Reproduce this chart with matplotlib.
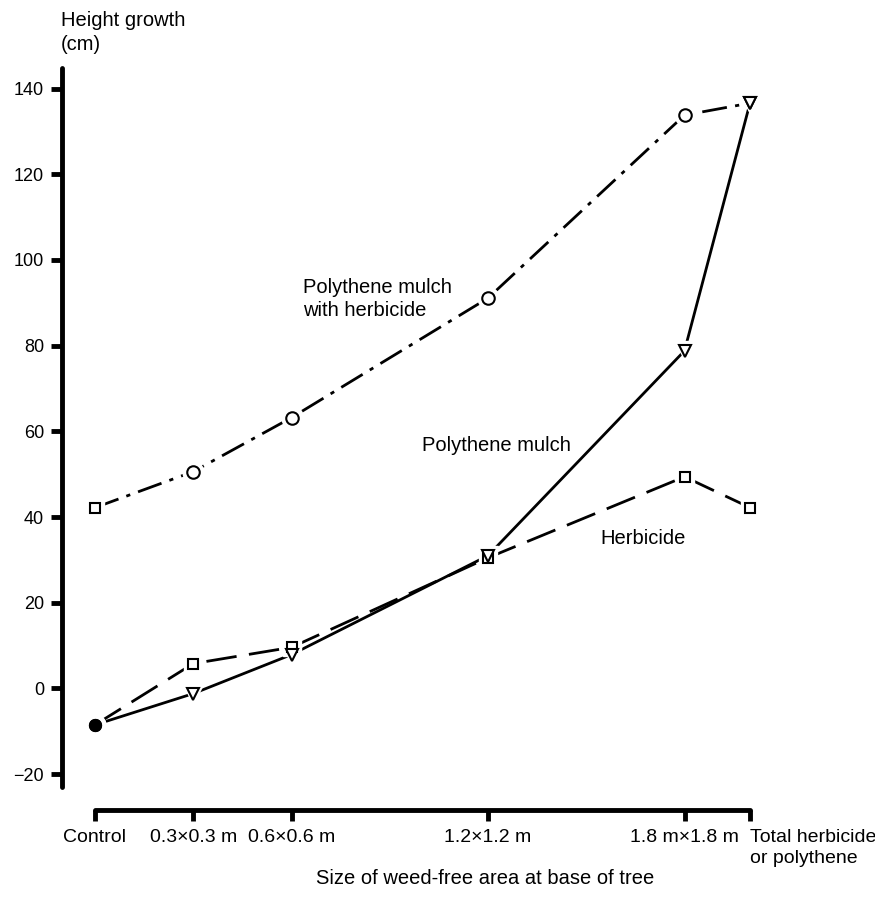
import matplotlib
matplotlib.use("Agg")
import matplotlib.pyplot as plt

plt.rcParams['font.family'] = ['Liberation Sans', 'DejaVu Sans']

x_pos = [0, 0.3, 0.6, 1.2, 1.8, 2.0]
x_labels = ["Control", "0.3×0.3 m", "0.6×0.6 m", "1.2×1.2 m", "1.8 m×1.8 m", "Total herbicide\nor polythene"]
y_ticks = [-20, 0, 20, 40, 60, 80, 100, 120, 140]

mulch_herb = [42.2, 50.6, 63.2, 91.1, 133.8, 136.6]
mulch_herb_markers = ['s', 'o', 'o', 'o', 'o', 'v']
mulch = [-8.5, -1.2, 7.9, 31.0, 78.8, 136.6]
mulch_markers = ['o', 'v', 'v', 'v', 'v', 'v']
herb = [-8.5, 5.8, 9.6, 30.5, 49.4, 42.2]
herb_markers = ['o', 's', 's', 's', 's', 's']

fig = plt.figure(figsize=(8.75, 9.07), dpi=100)
ax = fig.add_axes([62.25/875, 1-787/907, 720.5/875, 719/907])
ax.set_xlim(-0.1, 2.1)
ax.set_ylim(-23, 144.8)

lw = 2.0
ax.plot(x_pos, mulch_herb, color='black', lw=lw, dashes=(9, 3, 1.5, 3), zorder=2)
ax.plot(x_pos, mulch, color='black', lw=lw, zorder=2)
ax.plot(x_pos, herb, color='black', lw=lw, dashes=(11, 4.5), zorder=2)

def draw_markers(ys, marks):
    for xv, yv, m in zip(x_pos, ys, marks):
        size = {'o': 9, 's': 7.5, 'v': 8}[m]
        ax.plot([xv], [yv], marker=m, ms=size + 6, color='white', mec='white', zorder=3)
    for xv, yv, m in zip(x_pos, ys, marks):
        filled = (m == 'o' and xv == 0 and yv < 0)
        size = {'o': 9, 's': 7.5, 'v': 8}[m]
        if filled:
            size = 8
        ax.plot([xv], [yv], marker=m, ms=size, mfc='black' if filled else 'white',
                mec='black', mew=1.5, zorder=4)

draw_markers(mulch_herb, mulch_herb_markers)
draw_markers(herb, herb_markers)
draw_markers(mulch, mulch_markers)

for s in ['top', 'right']:
    ax.spines[s].set_visible(False)
ax.spines['left'].set_linewidth(3.5)
ax.spines['bottom'].set_linewidth(3.5)
ax.spines['bottom'].set_position(('outward', 16.5))
ax.spines['bottom'].set_bounds(0, 2.0)
ax.spines['left'].set_capstyle('round')
ax.spines['bottom'].set_capstyle('round')

ax.set_yticks(y_ticks)
ax.set_yticklabels([str(v) if v >= 0 else "\u2212" + str(-v) for v in y_ticks])
ax.set_xticks(x_pos)
ax.set_xticklabels(x_labels)
labels = ax.get_xticklabels()
labels[-1].set_horizontalalignment('left')
ax.tick_params(axis='both', width=3.5, length=8, direction='out')
ax.tick_params(axis='y', labelsize=13, pad=5)
ax.tick_params(axis='x', labelsize=14, pad=6)
for lab in labels:
    lab.set_linespacing(1.25)
labels[-1].set_x(1.985)

fig.text(61/875, 1-20/907, "Height growth", fontsize=14.5, ha='left', va='center')
fig.text(61/875, 1-45/907, "(cm)", fontsize=14.5, ha='left', va='center')
ax.text(0.635, 93.5, "Polythene mulch", fontsize=14.5, ha='left', va='center')
ax.text(0.635, 88.3, "with herbicide", fontsize=14.5, ha='left', va='center')
ax.text(1.0, 56.8, "Polythene mulch", fontsize=14.5, ha='left', va='center')
ax.text(1.542, 35.0, "Herbicide", fontsize=14.5, ha='left', va='center')
fig.text(485/875, 1-879/907, "Size of weed-free area at base of tree", fontsize=14.5, ha='center', va='center')

fig.savefig("out.png", dpi=100)
